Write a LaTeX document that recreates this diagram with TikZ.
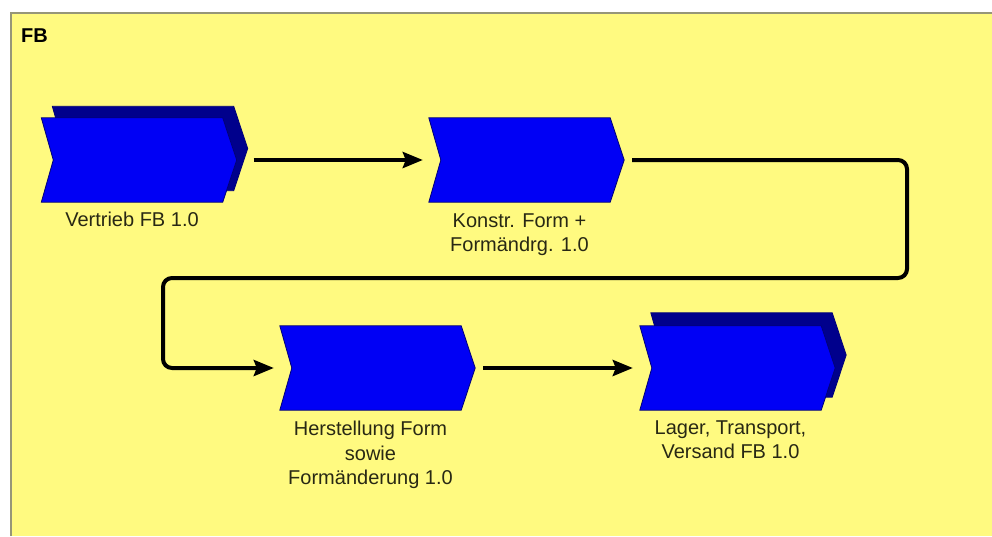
\documentclass[tikz,border=0pt]{standalone}
\usepackage{fontspec}
\setmainfont{Liberation Sans}
\usetikzlibrary{arrows.meta}
\definecolor{bgyellow}{RGB}{255,250,128}
\definecolor{framegray}{RGB}{150,150,120}
\definecolor{chevblue}{RGB}{0,0,245}
\definecolor{chevnavy}{RGB}{0,0,140}
\definecolor{chevedge}{RGB}{0,0,120}
\definecolor{lbltext}{RGB}{40,40,20}
\newcommand{\chevpath}[2]{%
  \path[fill=#2, draw=chevedge, line width=0.8pt, line join=miter]
    (#1.north west) -- (#1.north east) -- ([xshift=14pt]#1.east) --
    (#1.south east) -- (#1.south west) -- ([xshift=12pt]#1.west) -- cycle;}
\begin{document}
\begin{tikzpicture}[x=1pt,y=-1pt,
  chevbox/.style={minimum width=181pt, minimum height=84pt, inner sep=0pt, draw=none},
  lbl/.style={font=\fontsize{20}{24.5}\selectfont, align=center, inner sep=0pt, anchor=north, text=lbltext},
  conn/.style={line width=4pt, -{Stealth[length=20pt,width=16pt,inset=3pt]}}]
\useasboundingbox (0,0) rectangle (992,536);
\fill[white] (0,0) rectangle (992,536);
\fill[bgyellow] (10,12) rectangle (992,536);
\draw[framegray, line width=2pt] (11,536) -- (11,13) -- (992,13);
\node[anchor=base west, inner sep=0pt, font=\fontsize{20}{24}\selectfont\bfseries] (title) at (21,42) {FB};
% node 1 (stacked)
\node[chevbox] (n1b) at (143,148.5) {};
\chevpath{n1b}{chevnavy}
\node[chevbox] (n1) at (132,160) {};
\chevpath{n1}{chevblue}
\node[lbl] (l1) at ([yshift=-10pt]n1.south) {Vertrieb FB 1.0};
% node 2
\node[chevbox] (n2) at (519.5,160) {};
\chevpath{n2}{chevblue}
\node[lbl] (l2) at ([yshift=-11pt]n2.south) {Konstr. Form +\\Formändrg. 1.0};
% node 3
\node[chevbox] (n3) at (370.5,368) {};
\chevpath{n3}{chevblue}
\node[lbl] (l3) at ([yshift=-11pt]n3.south) {Herstellung Form\\sowie\\Formänderung 1.0};
% node 4 (stacked)
\node[chevbox] (n4b) at (741.5,355) {};
\chevpath{n4b}{chevnavy}
\node[chevbox] (n4) at (730.5,368) {};
\chevpath{n4}{chevblue}
\node[lbl] (l4) at ([yshift=-10pt]n4.south) {Lager, Transport,\\Versand FB 1.0};
% connectors
\coordinate (c1) at (907,160);
\coordinate (c2) at (907,278);
\coordinate (c3) at (163,278);
\coordinate (c4) at (163,368);
\draw[conn] ([xshift=31pt]n1.east) -- ([xshift=-6pt]n2.west);
\draw[conn, rounded corners=9pt] ([xshift=22pt]n2.east) -- (c1) -- (c2) -- (c3) -- (c4) -- ([xshift=-6pt]n3.west);
\draw[conn] ([xshift=22pt]n3.east) -- ([xshift=-7pt]n4.west);
\end{tikzpicture}
\end{document}
